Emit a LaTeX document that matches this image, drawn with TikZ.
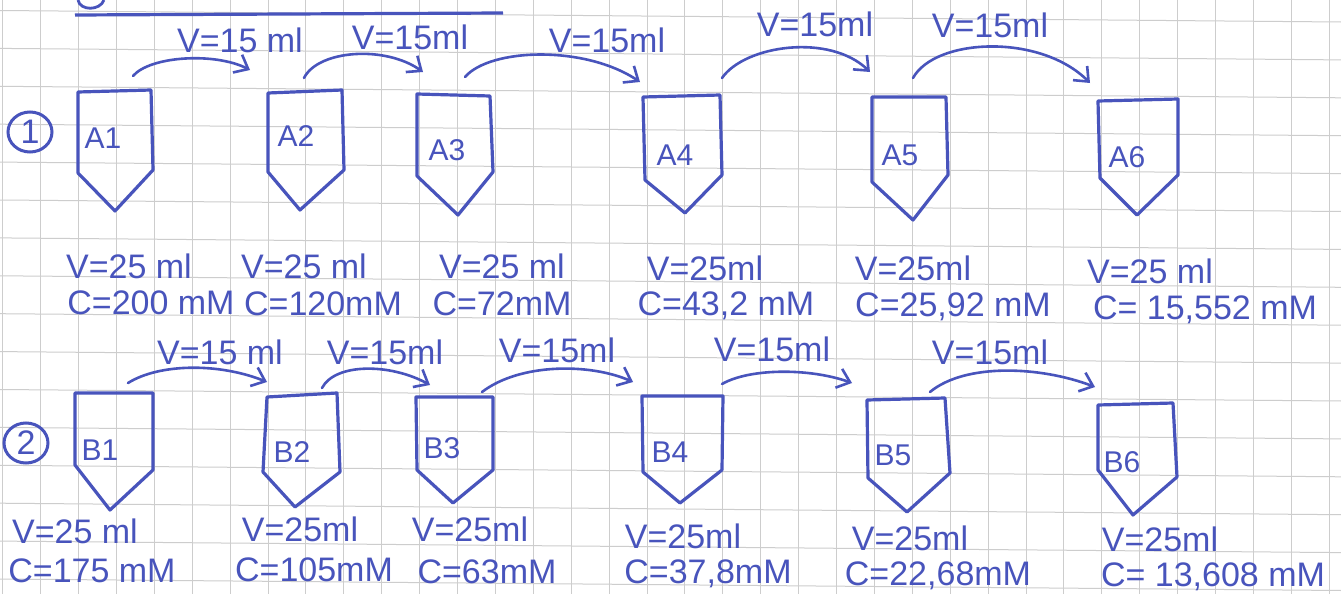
\documentclass[tikz,border=0pt]{standalone}
\usepackage{fontspec}
\setmainfont{Liberation Sans}
\usetikzlibrary{arrows.meta}
\definecolor{ink}{RGB}{72,84,188}
\definecolor{gridc}{RGB}{205,205,205}
\begin{document}
\begin{tikzpicture}[x=0.5pt,y=-0.5pt,
  gridline/.style={gridc,line width=0.5pt},
  tube/.style={ink,line width=1.6pt,line join=round},
  flow/.style={ink,line width=1.3pt,line cap=round,-{Straight Barb[length=6pt,width=10pt]}},
  tag/.style={ink,font=\fontsize{15}{15}\selectfont,inner sep=0pt},
  val/.style={ink,font=\fontsize{17}{17}\selectfont,inner sep=0pt},
  num/.style={ink,font=\fontsize{17}{17}\selectfont,inner sep=0pt}]
\fill[white] (0,0) rectangle (1341,594);
\useasboundingbox (0,0) rectangle (1341,594);
% grid paper
\foreach \k in {0,...,35} { \draw[gridline] ({2.7+37.9*\k},0) -- ({2.7+37.9*\k},594); }
\foreach \k in {0,...,16} { \draw[gridline] (0,{10.5+37.9*\k}) -- (1341,{22+37.9*\k}); }
% title remnants
\draw[ink,line width=1.6pt] (75,15) -- (503,13);
\draw[ink,line width=1.4pt] (78,0) .. controls (80,11) and (100,11) .. (104,0);
% circled numbers
\node[num] (n1) at (30,132) {1};
\draw[ink,line width=1.5pt] (n1) ellipse [x radius=22, y radius=20];
\node[num] (n2) at (26,443) {2};
\draw[ink,line width=1.5pt] (n2) ellipse [x radius=22, y radius=20];
% ---- row A tubes
\draw[tube] (78,92) -- (151,90) -- (153,170) -- (115,211) -- (78,173) -- cycle;
\draw[tube] (268,93) -- (342,90) -- (344,170) -- (300,210) -- (268,172) -- cycle;
\draw[tube] (417,94) -- (490,96) -- (493,172) -- (458,215) -- (417,176) -- cycle;
\draw[tube] (643,97) -- (720,95) -- (722,175) -- (685,213) -- (645,180) -- cycle;
\draw[tube] (872,97) -- (946,97) -- (948,175) -- (913,220) -- (872,182) -- cycle;
\draw[tube] (1098,101) -- (1178,99) -- (1178,175) -- (1137,215) -- (1100,178) -- cycle;
\node[tag] (A1) at (103,138) {A1};
\node[tag] (A2) at (296,136) {A2};
\node[tag] (A3) at (447,150) {A3};
\node[tag] (A4) at (675,155) {A4};
\node[tag] (A5) at (900,155) {A5};
\node[tag] (A6) at (1127,157) {A6};
% ---- row B tubes
\draw[tube] (75,393) -- (153,393) -- (153,470) -- (110,510) -- (75,465) -- cycle;
\draw[tube] (267,397) -- (337,393) -- (340,472) -- (295,507) -- (263,472) -- cycle;
\draw[tube] (416,397) -- (493,397) -- (493,470) -- (453,503) -- (417,470) -- cycle;
\draw[tube] (642,396) -- (723,396) -- (722,470) -- (680,503) -- (643,472) -- cycle;
\draw[tube] (867,400) -- (945,398) -- (950,473) -- (907,512) -- (868,478) -- cycle;
\draw[tube] (1098,405) -- (1173,403) -- (1177,477) -- (1133,515) -- (1098,470) -- cycle;
\node[tag] (B1) at (100,450) {B1};
\node[tag] (B2) at (292,452) {B2};
\node[tag] (B3) at (442,448) {B3};
\node[tag] (B4) at (670,452) {B4};
\node[tag] (B5) at (893,455) {B5};
\node[tag] (B6) at (1122,462) {B6};
% ---- arrow end points
\coordinate (A1o) at (133,76);  \coordinate (A2i) at (250,70);
\coordinate (A2o) at (304,78);  \coordinate (A3i) at (423,72);
\coordinate (A3o) at (465,77);  \coordinate (A4i) at (640,82);
\coordinate (A4o) at (722,78);  \coordinate (A5i) at (870,72);
\coordinate (A5o) at (913,78);  \coordinate (A6i) at (1090,83);
\coordinate (B1o) at (128,383); \coordinate (B2i) at (267,382);
\coordinate (B2o) at (322,388); \coordinate (B3i) at (430,385);
\coordinate (B3o) at (482,392); \coordinate (B4i) at (633,382);
\coordinate (B4o) at (722,384); \coordinate (B5i) at (852,383);
\coordinate (B5o) at (930,392); \coordinate (B6i) at (1095,387);
% ---- transfers row A
\draw[flow] (A1o) .. controls (150,56) and (215,52) .. (A2i);
\draw[flow] (A2o) .. controls (318,50) and (385,45) .. (A3i);
\draw[flow] (A3o) .. controls (490,48) and (585,45) .. (A4i);
\draw[flow] (A4o) .. controls (745,45) and (830,33) .. (A5i);
\draw[flow] (A5o) .. controls (935,38) and (1040,33) .. (A6i);
\node[val] (tA1) at (240,40) {V=15 ml};
\node[val] (tA2) at (410,37) {V=15ml};
\node[val] (tA3) at (607,40) {V=15ml};
\node[val] (tA4) at (815,24) {V=15ml};
\node[val] (tA5) at (990,25) {V=15ml};
% ---- transfers row B
\draw[flow] (B1o) .. controls (160,363) and (220,363) .. (B2i);
\draw[flow] (B2o) .. controls (335,363) and (390,363) .. (B3i);
\draw[flow] (B3o) .. controls (520,363) and (590,363) .. (B4i);
\draw[flow] (B4o) .. controls (750,368) and (810,368) .. (B5i);
\draw[flow] (B5o) .. controls (965,363) and (1040,366) .. (B6i);
\node[val] (tB1) at (220,352) {V=15 ml};
\node[val] (tB2) at (385,352) {V=15ml};
\node[val] (tB3) at (557,350) {V=15ml};
\node[val] (tB4) at (772,349) {V=15ml};
\node[val] (tB5) at (990,352) {V=15ml};
% ---- contents row A
\node[val] (vA1) at (129,266) {V=25 ml};
\node[val] (cA1) at (151,303) {C=200 mM};
\node[val] (vA2) at (304,266) {V=25 ml};
\node[val] (cA2) at (323,304) {C=120mM};
\node[val] (vA3) at (502,266) {V=25 ml};
\node[val] (cA3) at (502,304) {C=72mM};
\node[val] (vA4) at (705,268) {V=25ml};
\node[val] (cA4) at (726,306) {C=43,2 mM};
\node[val] (vA5) at (913,268) {V=25ml};
\node[val] (cA5) at (953,307) {C=25,92 mM};
\node[val] (vA6) at (1150,271) {V=25 ml};
\node[val] (cA6) at (1205,310) {C= 15,552 mM};
% ---- contents row B
\node[val] (vB1) at (75,531) {V=25 ml};
\node[val] (cB1) at (92,571) {C=175 mM};
\node[val] (vB2) at (300,529) {V=25ml};
\node[val] (cB2) at (314,570) {C=105mM};
\node[val] (vB3) at (470,529) {V=25ml};
\node[val] (cB3) at (487,572) {C=63mM};
\node[val] (vB4) at (683,536) {V=25ml};
\node[val] (cB4) at (708,574) {C=37,8mM};
\node[val] (vB5) at (910,538) {V=25ml};
\node[val] (cB5) at (938,576) {C=22,68mM};
\node[val] (vB6) at (1160,539) {V=25ml};
\node[val] (cB6) at (1213,577) {C= 13,608 mM};
\end{tikzpicture}
\end{document}
